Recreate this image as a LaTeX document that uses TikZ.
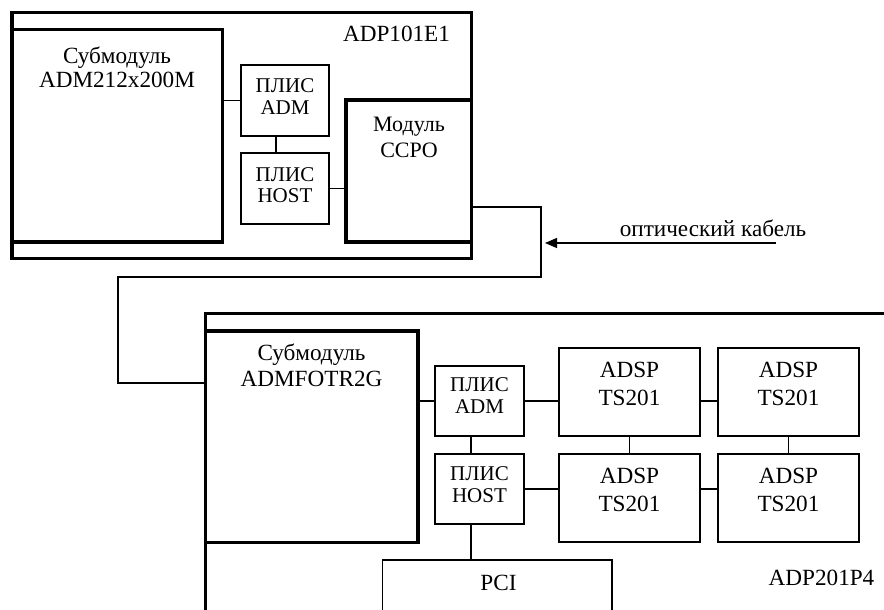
\documentclass[tikz,border=0pt]{standalone}
\usepackage{fontspec}
\setmainfont{Liberation Serif}
\usetikzlibrary{arrows.meta}
\begin{document}
\begin{tikzpicture}[x=1pt,y=-1pt,
  heavybox/.style={draw, line width=3.6pt, inner sep=0pt, outer sep=0pt},
  thinbox/.style={draw, line width=1.2pt, inner sep=0pt, outer sep=0pt},
  wire/.style={line width=1.2pt},
  txt/.style={inner sep=0pt, align=center, font=\fontsize{23.2}{#1}\selectfont},
  txt/.default=24,
  smalltxt/.style={inner sep=0pt, align=center, font=\fontsize{21}{#1}\selectfont},
  smalltxt/.default=21.5]
\useasboundingbox (0,0) rectangle (884,610);
\clip (0,0) rectangle (884,610);

% ---- board ADP101E1 ----
\node[heavybox, minimum width=459.5pt, minimum height=246pt] (board1) at (241.75,135.5) {};
\node[heavybox, minimum width=210.5pt, minimum height=212.5pt] (sub1) at (117.25,135.75) {};
\node[thinbox, minimum width=88pt, minimum height=71pt] (plisA1) at (285,100.5) {};
\node[thinbox, minimum width=88pt, minimum height=71pt] (plisH1) at (285,188.5) {};
\node[heavybox, minimum width=125.5pt, minimum height=142pt] (ccpo) at (408.75,171) {};

\node[txt] (tadp1) at (396.5,33.5) {ADP101E1};
\node[txt] (tsub1) at (117,67) {Субмодуль\\ADM212x200M};
\node[smalltxt] (tplisA1) at (285,96.5) {ПЛИС\\ADM};
\node[smalltxt] (tplisH1) at (285,185) {ПЛИС\\HOST};
\node[inner sep=0pt, align=center, font=\fontsize{22}{26}\selectfont] (tccpo) at (409,137) {Модуль\\CCPO};

\draw[wire] (plisA1.west) -- (plisA1.west -| sub1.east);
\coordinate (vA1) at ([xshift=-9pt]plisA1.south);
\draw[wire] (vA1) -- (vA1 |- plisH1.north);
\draw[wire] (plisH1.east) -- (plisH1.east -| ccpo.west);

% ---- board ADP201P4 ----
\node[heavybox, minimum width=694.5pt, minimum height=326.5pt] (board2) at (552.75,476.75) {};
\node[heavybox, minimum width=212.5pt, minimum height=211.5pt] (sub2) at (311.75,436.75) {};
\node[thinbox, minimum width=89pt, minimum height=70pt] (plisA2) at (479.5,401) {};
\node[thinbox, minimum width=89pt, minimum height=70pt] (plisH2) at (479.5,489) {};
\node[thinbox, minimum width=229.5pt, minimum height=80pt] (pci) at (497.25,600) {};
\node[thinbox, minimum width=141pt, minimum height=88pt] (adsp1) at (629.5,392) {};
\node[thinbox, minimum width=141pt, minimum height=88pt] (adsp2) at (788.5,392) {};
\node[thinbox, minimum width=141pt, minimum height=88pt] (adsp3) at (629.5,498) {};
\node[thinbox, minimum width=141pt, minimum height=88pt] (adsp4) at (788.5,498) {};

\node[txt=26.5] (tsub2) at (311.5,365.5) {Субмодуль\\ADMFOTR2G};
\node[smalltxt=22] (tplisA2) at (479.5,396) {ПЛИС\\ADM};
\node[smalltxt=22] (tplisH2) at (479.5,485) {ПЛИС\\HOST};
\node[txt=28] (tadsp1) at (629.5,384) {ADSP\\TS201};
\node[txt=28] (tadsp2) at (788.5,384) {ADSP\\TS201};
\node[txt=28] (tadsp3) at (629.5,489.5) {ADSP\\TS201};
\node[txt=28] (tadsp4) at (788.5,489.5) {ADSP\\TS201};
\node[txt] (tpci) at (498.5,582.5) {PCI};
\node[txt] (tadp2) at (821.5,577.5) {ADP201P4};

\draw[wire] (sub2.east |- plisA2.west) -- (plisA2.west);
\coordinate (vA2) at ([xshift=-8.5pt]plisA2.south);
\draw[wire] (vA2) -- (vA2 |- plisH2.north);
\coordinate (vH2) at ([xshift=-8.5pt]plisH2.south);
\draw[wire] (vH2) -- (vH2 |- pci.north);
\draw[wire] (plisA2.east) -- (plisA2.east -| adsp1.west);
\draw[wire] (plisA2.east -| adsp1.east) -- (plisA2.east -| adsp2.west);
\draw[wire] (adsp1.south) -- (adsp3.north);
\draw[wire] (adsp2.south) -- (adsp4.north);
\draw[wire] (plisH2.east) -- (plisH2.east -| adsp3.west);
\draw[wire] (plisH2.east -| adsp3.east) -- (plisH2.east -| adsp4.west);

% ---- optical cable ----
\coordinate (k1) at (541,207);
\coordinate (k2) at (541,277);
\coordinate (k3) at (118,277);
\coordinate (k4) at (118,383);
\draw[wire] (board1.east |- k1) -- (k1) -- (k2) -- (k3) -- (k4) -- (k4 -| board2.west);

\coordinate (a0) at (776,243);
\coordinate (a1) at (545,243);
\draw[wire, -{Triangle[length=12pt,width=10pt]}] (a0) -- (a1);
\node[txt, anchor=base] (tcable) at (713,236) {оптический кабель};
\end{tikzpicture}
\end{document}
